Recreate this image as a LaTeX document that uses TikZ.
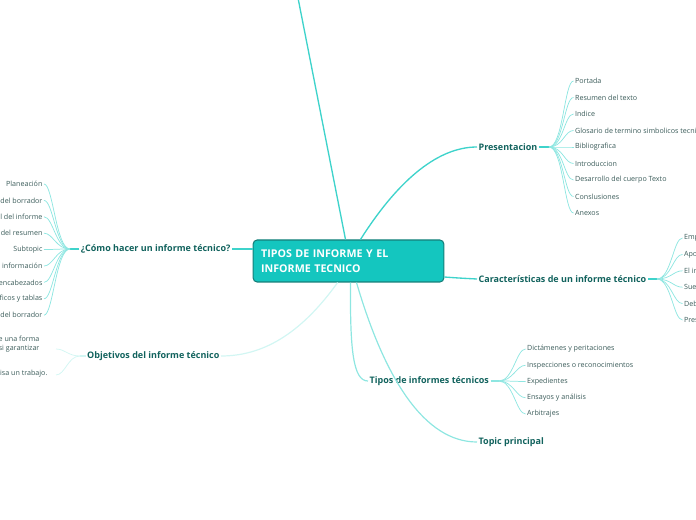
\documentclass[tikz,border=0pt]{standalone}
\usepackage{fontspec}
\setmainfont{Open Sans}
\usepackage{xcolor}
\usetikzlibrary{positioning,calc}
\definecolor{rootfill}{HTML}{14C6BF}
\definecolor{rootedge}{HTML}{177F79}
\definecolor{topicink}{HTML}{11625D}
\definecolor{subink}{HTML}{3A5B59}
\definecolor{linkteal}{HTML}{3ED3CB}
\definecolor{softteal}{HTML}{8EE6E1}
\definecolor{paleteal}{HTML}{D2F6F3}

\begin{document}
\begin{tikzpicture}[x=0.75pt,y=-0.75pt,
		root/.style={rounded corners=3pt,draw=rootedge,fill=rootfill,line width=0.8pt,text=white,align=left,
			font=\bfseries\fontsize{8}{11.4}\selectfont,text width=131pt,inner xsep=6pt,minimum height=31.5pt},
		topic/.style={font=\bfseries\fontsize{6.75}{7.8}\selectfont,text=topicink,inner sep=1pt},
		sub/.style={font=\fontsize{5.35}{7.2}\selectfont,text=subink,inner sep=1pt},
		main/.style={draw=linkteal,line width=1pt},
		soft/.style={draw=softteal,line width=0.9pt},
		pale/.style={draw=paleteal,line width=0.9pt},
		twig/.style={draw=softteal,line width=0.55pt}
		]
		\useasboundingbox (0,0) rectangle (696,520);
		% central topic
		\node[root] (root) at (348.5,261) {TIPOS DE INFORME Y EL\\INFORME TECNICO};
		\coordinate (offtop) at (298,-2);
		% main topics
		\node[topic,anchor=west] (pres) at (477,147) {Presentacion};
		\node[topic,anchor=west] (carac) at (477,279) {Características de un informe técnico};
		\node[topic,anchor=east] (como) at (232,249) {¿Cómo hacer un informe técnico?};
		\node[topic,anchor=east] (obj) at (221,356) {Objetivos del informe técnico};
		\node[topic,anchor=west] (tipos) at (368,381) {Tipos de informes técnicos};
		\node[topic,anchor=west] (princ) at (477,442) {Topic principal};
		% links from the centre
		\draw[main] ($(root.north)+(-3,0)$) -- (offtop);
		\draw[main] ($(root.north)+(12,0)$) .. controls (395,185) and (435,147) .. (pres.west);
		\draw[main] ($(root.east)+(0,16)$) .. controls (458,278) .. (carac.west);
		\draw[main] ($(root.west)+(0,-12)$) -- (como.east);
		\draw[pale] ($(root.south west)+(85,0)$) .. controls (300,335) and (262,356) .. (obj.east);
		\draw[soft] ($(root.south)+(2,0)$) .. controls (350,350) and (353,381) .. (tipos.west);
		\draw[soft] ($(root.south)+(8,0)$) .. controls (385,380) and (425,442) .. (princ.west);
		% hubs
		\coordinate (preshub) at (549,147);
		\coordinate (carachub) at (657,279);
		\coordinate (comohub) at (70,249);
		\coordinate (objhub) at (80,356);
		\coordinate (tiposhub) at (499,381);
		\draw[main] (pres.east) -- (preshub);
		\draw[main] (carac.east) -- (carachub);
		\draw[main] (como.west) -- (comohub);
		\draw[pale] (obj.west) -- (objhub);
		\draw[soft] (tipos.east) -- (tiposhub);
		% Presentacion
		\foreach \t [count=\i] in {Portada,Resumen del texto,Indice,Glosario de termino simbolicos tecni,Bibliografica,Introduccion,Desarrollo del cuerpo Texto,Conslusiones,Anexos}{
			\node[sub,anchor=west] (pres\i) at (573.5,{64.5+16.5*\i}) {\t};
			\draw[twig] (preshub) .. controls +(14,0) and +(-9,0) .. (pres\i.west);
		}
		% Caracteristicas
		\foreach \t [count=\i] in {Emp,Apo,El in,Sue,Deb,Pres}{
			\node[sub,anchor=west] (carac\i) at (682.5,{221.6+16.4*\i}) {\t};
			\draw[twig] (carachub) .. controls +(14,0) and +(-9,0) .. (carac\i.west);
		}
		% Como hacer
		\foreach \t [count=\i] in {Planeación,del borrador,l del informe,del resumen,Subtopic,e información,encabezados,ficos y tablas,del borrador}{
			\node[sub,anchor=east] (como\i) at (44,{167.6+16.4*\i}) {\t};
			\draw[twig] (comohub) .. controls +(-14,0) and +(9,0) .. (como\i.east);
		}
		% Objetivos
		\node[sub,anchor=east,align=right] (obj1) at (41,344) {e una forma\\si garantizar};
		\node[sub,anchor=east] (obj2) at (49,374) {cisa un trabajo.};
		\coordinate (objend1) at (56,349);
		\coordinate (objend2) at (56,375);
		\draw[pale,line width=0.55pt] (objhub) .. controls +(-12,0) and +(9,0) .. (objend1);
		\draw[pale,line width=0.55pt] (objhub) .. controls +(-12,0) and +(9,0) .. (objend2);
		% Tipos
		\foreach \t [count=\i] in {Dictámenes y peritaciones,Inspecciones o reconocimientos,Expedientes,Ensayos y análisis,Arbitrajes}{
			\node[sub,anchor=west] (tipos\i) at (525.5,{332.75+16.25*\i}) {\t};
			\draw[twig] (tiposhub) .. controls +(14,0) and +(-9,0) .. (tipos\i.west);
		}
	\end{tikzpicture}
\end{document}
